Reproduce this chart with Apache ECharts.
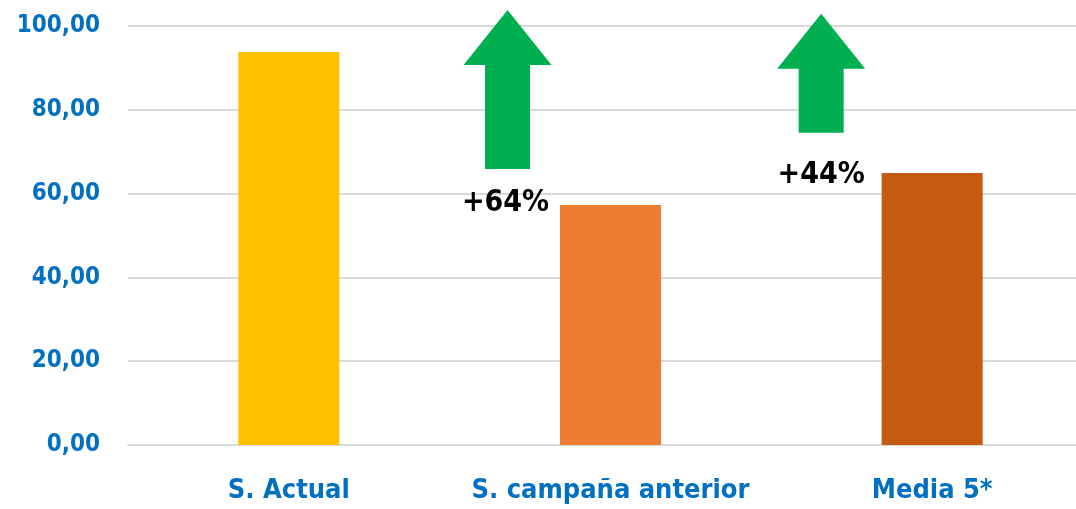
<!DOCTYPE html>
<html>
<head>
<meta charset="utf-8">
<script src="https://cdn.jsdelivr.net/npm/echarts@6/dist/echarts.min.js"></script>
<style>
  html, body { margin: 0; padding: 0; background: #fff; }
  #chart { width: 1076px; height: 509px; }
</style>
</head>
<body>
<div id="chart"></div>
<script>
  const categories = ['S. Actual', 'S. campaña anterior', 'Media 5*']
  const values = [93.8, 57.3, 64.9]
  const barColors = ['#FFC000', '#ED7D31', '#C55A11']

  // arrows: category they sit next to, bottom/top values, change label
  const arrowCats = [1, 2]
  const arrowBottom = [65.9, 74.5]
  const arrowTop = [103.8, 102.9]
  const arrowLabels = ['+64%', '+44%']
  const arrowLabelValue = [57.8, 64.3]

  const font = '"DejaVu Sans Condensed", sans-serif'
  const blue = '#0070C0'

  const chart = echarts.init(document.getElementById('chart'))
  chart.setOption({
    animation: false,
    grid: { left: 128, width: 965, top: 26, bottom: 64, outerBoundsMode: 'none', containLabel: false },
    xAxis: {
      type: 'category',
      data: categories,
      axisTick: { show: false },
      axisLine: { lineStyle: { color: '#d9d9d9', width: 2 } },
      axisLabel: {
        color: blue, fontWeight: 'bold', fontSize: 27, fontFamily: font, margin: 32, interval: 0
      }
    },
    yAxis: {
      type: 'value',
      min: 0,
      max: 100,
      interval: 20,
      axisLine: { show: false },
      axisTick: { show: false },
      splitLine: { lineStyle: { color: '#d9d9d9', width: 2 } },
      axisLabel: {
        color: blue, fontWeight: 'bold', fontSize: 24, fontFamily: font, margin: 28,
        formatter: v => v.toFixed(2).replace('.', ',')
      }
    },
    series: [{
      type: 'bar',
      barWidth: 101,
      data: values.map((v, i) => ({ value: v, itemStyle: { color: barColors[i] } }))
    }]
  })

  function drawArrows() {
    const shapes = []
    arrowCats.forEach((c, i) => {
      const offset = i === 0 ? -103 : -111
      const base = chart.convertToPixel({ gridIndex: 0 }, [c, arrowBottom[i]])
      const tip = chart.convertToPixel({ gridIndex: 0 }, [c, arrowTop[i]])
      const cx = base[0] + offset
      const headH = 55
      const headW = 44
      const shaftW = 22.5
      shapes.push({
        type: 'polygon',
        shape: {
          points: [
            [cx, tip[1]],
            [cx + headW, tip[1] + headH],
            [cx + shaftW, tip[1] + headH],
            [cx + shaftW, base[1]],
            [cx - shaftW, base[1]],
            [cx - shaftW, tip[1] + headH],
            [cx - headW, tip[1] + headH]
          ]
        },
        style: { fill: '#00B050' }
      })
      const lab = chart.convertToPixel({ gridIndex: 0 }, [c, arrowLabelValue[i]])
      shapes.push({
        type: 'text',
        x: i === 0 ? cx - 2 : cx,
        y: lab[1],
        style: {
          text: arrowLabels[i],
          fill: '#000', font: 'bold 30px ' + font,
          align: 'center', verticalAlign: 'middle'
        }
      })
    })
    chart.setOption({ graphic: shapes })
  }
  drawArrows()
</script>
</body>
</html>
